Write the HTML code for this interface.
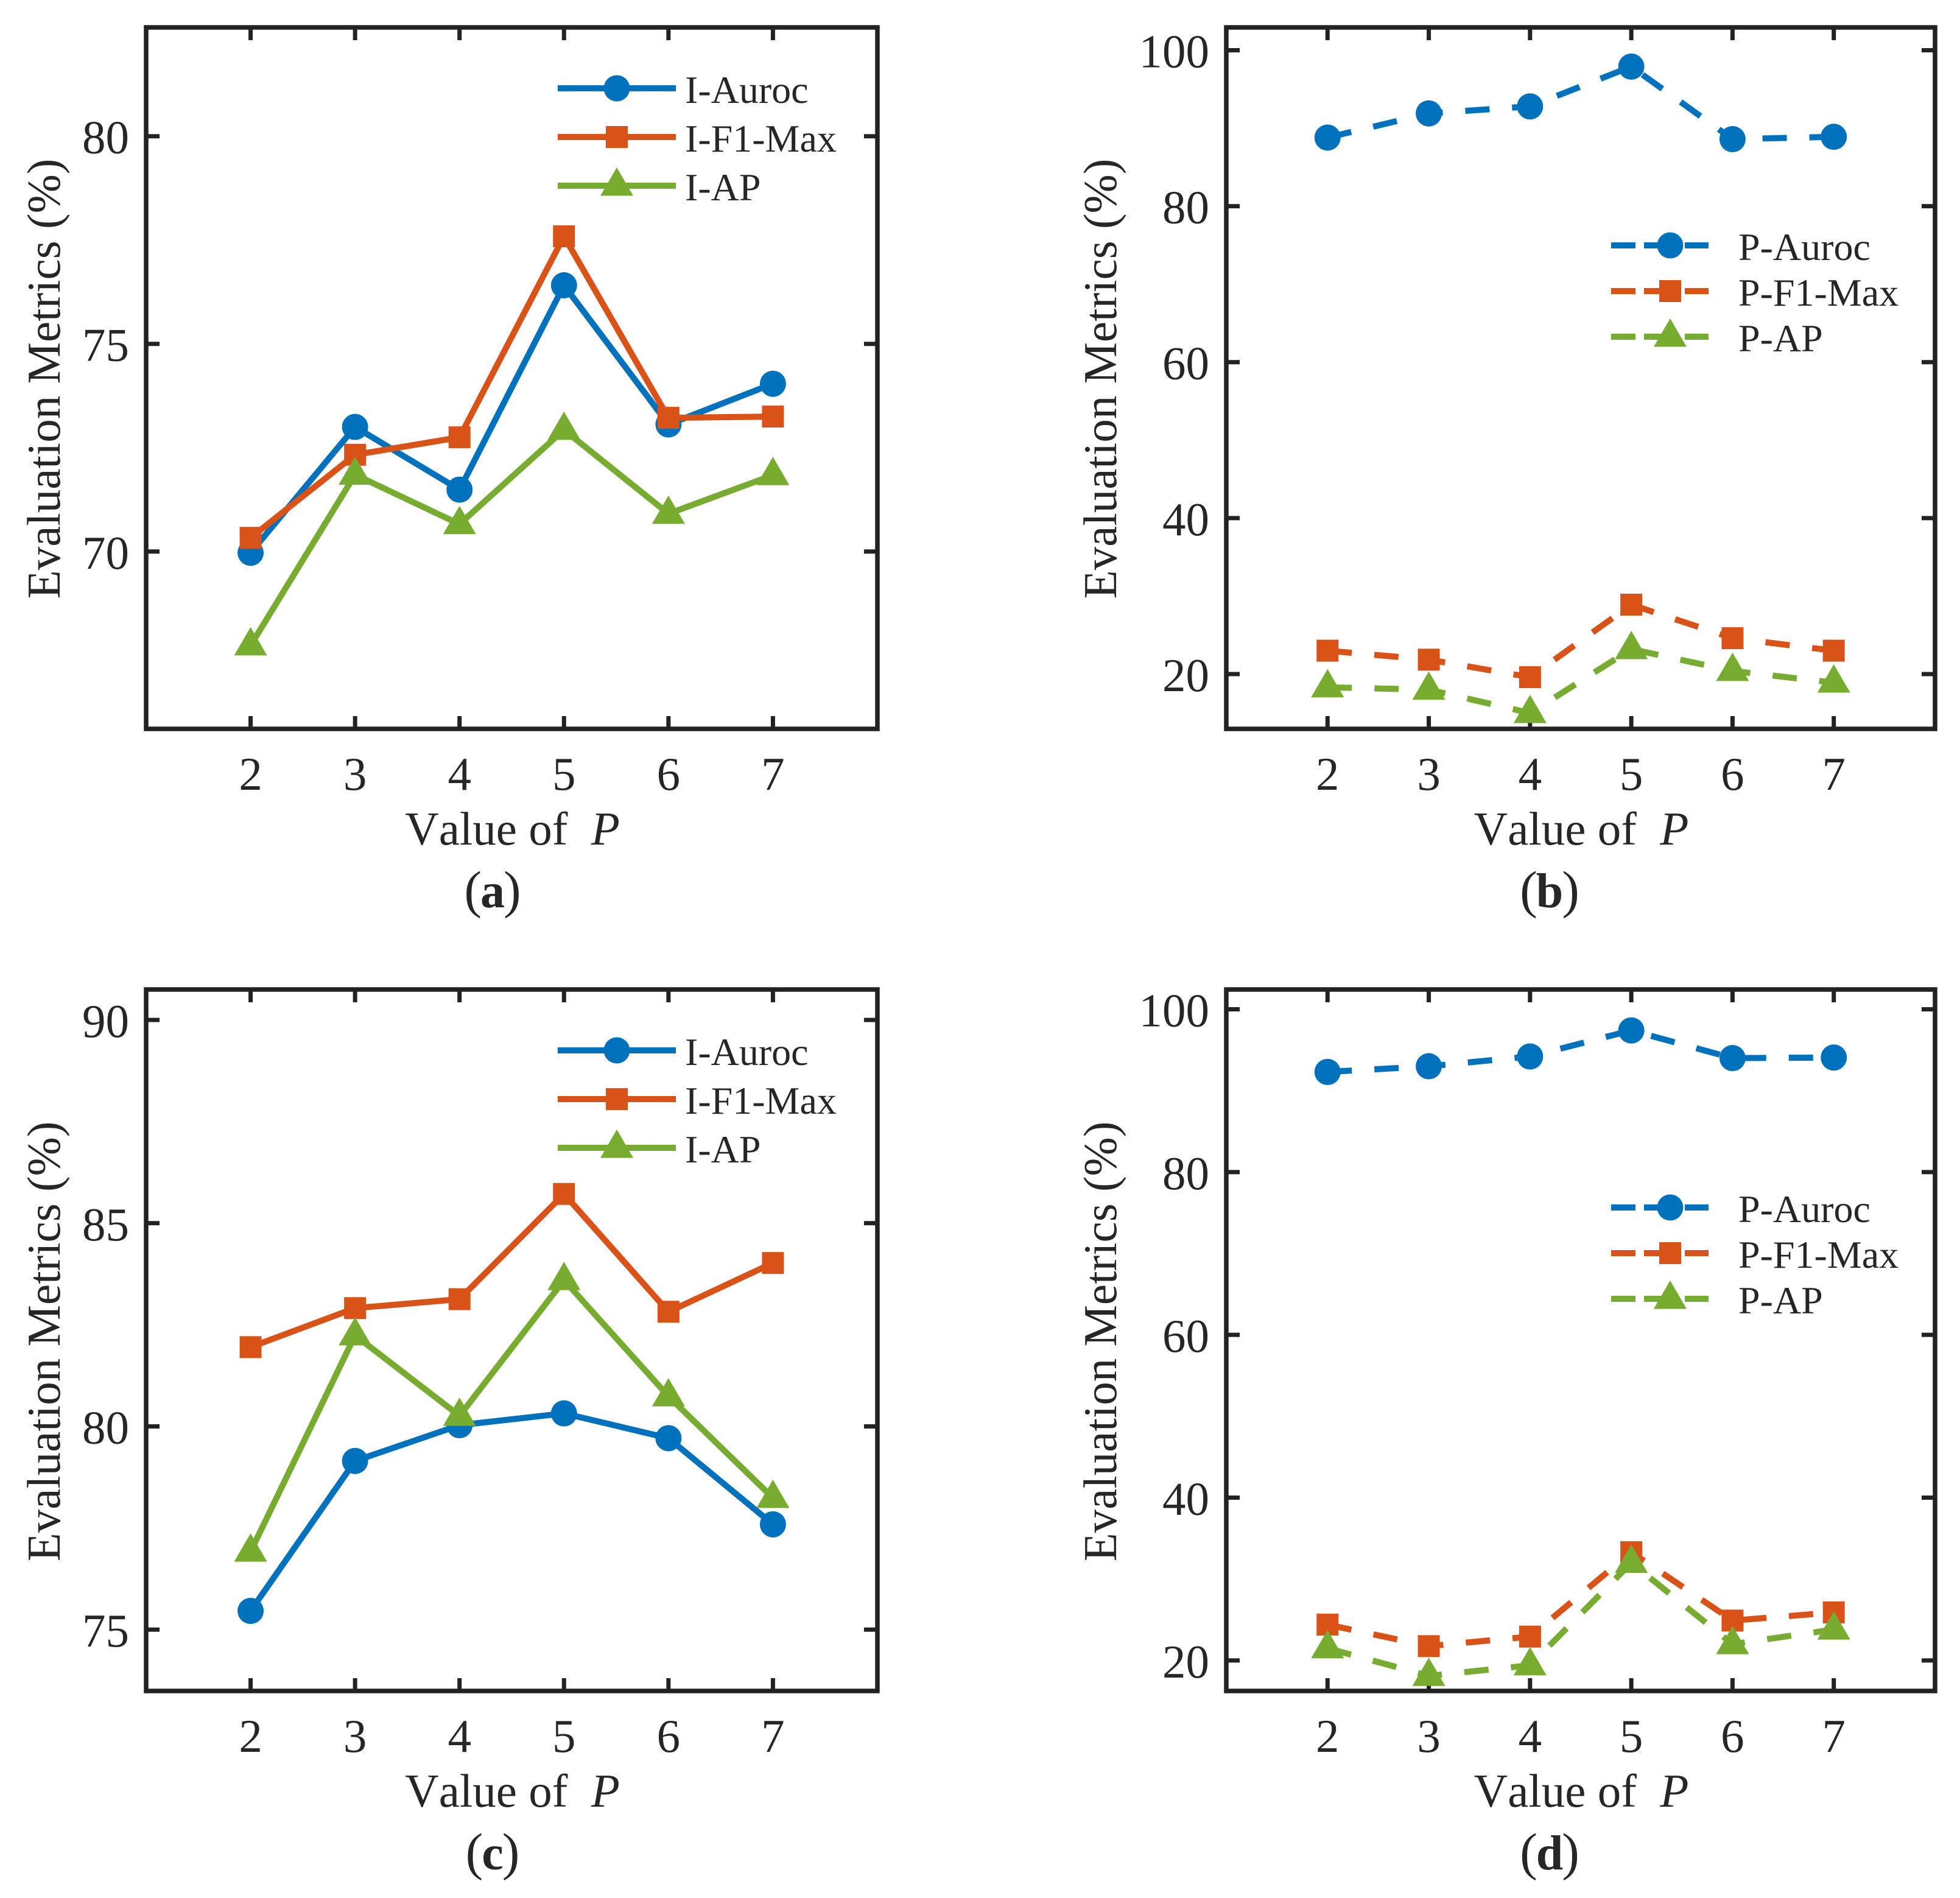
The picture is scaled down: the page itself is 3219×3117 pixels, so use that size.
<!DOCTYPE html>
<html lang="en">
<head>
<meta charset="utf-8">
<title>Evaluation Metrics vs Value of P</title>
<style>
html,body{margin:0;padding:0;background:#fff;width:3219px;height:3117px;overflow:hidden}
svg{display:block}
text{font-family:"Liberation Serif",serif;fill:#262626;white-space:pre;font-kerning:none}
</style>
</head>
<body>
<svg id="figure" xmlns="http://www.w3.org/2000/svg" width="3219" height="3117" viewBox="0 0 3219 3117"></svg>
<script>
// ---- Data ----
const xCategories = [2, 3, 4, 5, 6, 7];

const aTicks = [70, 75, 80];
const aAuroc = [69.97, 73.0, 71.49, 76.41, 73.06, 74.04];
const aF1Max = [70.33, 72.33, 72.75, 77.59, 73.22, 73.25];
const aAP = [67.74, 71.85, 70.66, 72.93, 70.91, 71.84];

const bTicks = [20, 40, 60, 80, 100];
const bAuroc = [88.8, 91.9, 92.8, 97.9, 88.6, 88.9];
const bF1Max = [23.0, 21.85, 19.6, 28.9, 24.6, 23.0];
const bAP = [18.3, 18.0, 15.0, 23.2, 20.4, 18.9];

const cTicks = [75, 80, 85, 90];
const cAuroc = [75.46, 79.15, 80.03, 80.32, 79.71, 77.59];
const cF1Max = [81.95, 82.91, 83.13, 85.72, 82.82, 84.02];
const cAP = [76.92, 82.24, 80.26, 83.6, 80.74, 78.24];

const dTicks = [20, 40, 60, 80, 100];
const dAuroc = [92.3, 93.0, 94.2, 97.4, 94.0, 94.07];
const dF1Max = [24.4, 21.76, 22.93, 33.3, 24.9, 25.9];
const dAP = [21.5, 18.1, 19.4, 32.0, 22.0, 23.8];

// ---- Layout and styling ----
const BLUE = '#0072BD', ORANGE = '#D95319', GREEN = '#77AC30', INK = '#222222';
const panels = [
  {id:'a', left:240, right:1441, top:45, bottom:1197, yMin:65.73, yMax:82.62, ticks:aTicks, prefix:'I',
   series:[aAuroc,aF1Max,aAP], dash:null, yLabelX:98, yLabelY:622, capX:809,
   legend:{x1:916,x2:1110,mx:1013,tx:1125,ys:[145,225,305],dy:24}},
  {id:'b', left:2014, right:3178, top:45, bottom:1197, yMin:12.97, yMax:102.93, ticks:bTicks, prefix:'P',
   series:[bAuroc,bF1Max,bAP], dash:'40 37', yLabelX:1833, yLabelY:622, capX:2545,
   legend:{x1:2646,x2:2806,mx:2743,tx:2855,ys:[403,478,553],dy:24}},
  {id:'c', left:240, right:1441, top:1625, bottom:2777, yMin:73.49, yMax:90.75, ticks:cTicks, prefix:'I',
   series:[cAuroc,cF1Max,cAP], dash:null, yLabelX:98, yLabelY:2203, capX:809,
   legend:{x1:916,x2:1110,mx:1013,tx:1125,ys:[1725,1805,1885],dy:24}},
  {id:'d', left:2014, right:3178, top:1625, bottom:2777, yMin:16.25, yMax:102.43, ticks:dTicks, prefix:'P',
   series:[dAuroc,dF1Max,dAP], dash:'40 37', yLabelX:1833, yLabelY:2203, capX:2545,
   legend:{x1:2646,x2:2806,mx:2743,tx:2855,ys:[1983,2058,2133],dy:24}}
];
const seriesMeta = [
  {suffix:'Auroc', key:'auroc', color:BLUE, marker:'circle'},
  {suffix:'F1-Max', key:'f1-max', color:ORANGE, marker:'square'},
  {suffix:'AP', key:'ap', color:GREEN, marker:'triangle'}
];
const X_MIN = 1, X_MAX = 8;
const NS = 'http://www.w3.org/2000/svg';
const figure = document.getElementById('figure');

function make(parent, tag, attrs, name) {
  const el = document.createElementNS(NS, tag);
  for (const k in attrs) el.setAttribute(k, attrs[k]);
  
  
  parent.appendChild(el);
  return el;
}
function axisX(p, v) { return p.left + (v - X_MIN) / (X_MAX - X_MIN) * (p.right - p.left); }
function axisY(p, v) { return p.bottom - (v - p.yMin) / (p.yMax - p.yMin) * (p.bottom - p.top); }

function drawMarker(g, kind, cx, cy, color, name) {
  if (kind === 'circle') {
    make(g, 'circle', {cx:cx, cy:cy, r:21.5, fill:color}, name);
  } else if (kind === 'square') {
    make(g, 'rect', {x:cx-18, y:cy-18, width:36, height:36, fill:color}, name);
  } else {
    make(g, 'polygon', {points:(cx)+','+(cy-30)+' '+(cx-27)+','+(cy+16.5)+' '+(cx+27)+','+(cy+16.5), fill:color}, name);
  }
}

panels.forEach(function (p) {
  const g = make(figure, 'g', {}, 'panel-' + p.id);

  // frame
  make(g, 'rect', {x:p.left, y:p.top, width:p.right-p.left, height:p.bottom-p.top, fill:'none', stroke:INK, 'stroke-width':7.5}, 'plot-frame-' + p.id);

  // x ticks
  xCategories.forEach(function (c) {
    const x = axisX(p, c);
    make(g, 'line', {x1:x, x2:x, y1:p.bottom, y2:p.bottom-21, stroke:INK, 'stroke-width':7}, 'x-tick-bottom-' + c);
    make(g, 'line', {x1:x, x2:x, y1:p.top, y2:p.top+21, stroke:INK, 'stroke-width':7}, 'x-tick-top-' + c);
    const t = make(g, 'text', {x:x, y:p.bottom+100, 'text-anchor':'middle', 'font-size':77}, 'x-tick-label-' + c);
    t.textContent = String(c);
  });

  // y ticks
  p.ticks.forEach(function (v) {
    const y = axisY(p, v);
    make(g, 'line', {x1:p.left, x2:p.left+22, y1:y, y2:y, stroke:INK, 'stroke-width':7}, 'y-tick-left-' + v);
    make(g, 'line', {x1:p.right, x2:p.right-22, y1:y, y2:y, stroke:INK, 'stroke-width':7}, 'y-tick-right-' + v);
    const t = make(g, 'text', {x:p.left-28, y:y+28, 'text-anchor':'end', 'font-size':77}, 'y-tick-label-' + v);
    t.textContent = String(v);
  });

  // axis titles
  const yt = make(g, 'text', {x:p.yLabelX, y:p.yLabelY, 'text-anchor':'middle', 'font-size':77,
    transform:'rotate(-90 ' + p.yLabelX + ' ' + p.yLabelY + ')'}, 'y-axis-title');
  yt.textContent = 'Evaluation Metrics (%)';

  const xt = make(g, 'text', {x:(p.left+p.right)/2+1, y:p.bottom+190, 'text-anchor':'middle', 'font-size':77}, 'x-axis-title');
  xt.appendChild(document.createTextNode('Value of  '));
  const it = make(xt, 'tspan', {'font-style':'italic'}, 'x-axis-variable');
  it.textContent = 'P';

  // caption
  const cap = make(g, 'text', {x:p.capX, y:p.bottom+293, 'text-anchor':'middle', 'font-size':86, fill:'#000'}, 'panel-caption-' + p.id);
  cap.appendChild(document.createTextNode('('));
  const capB = make(cap, 'tspan', {'font-weight':'bold', 'font-size':80, dx:-2}, 'panel-letter-' + p.id);
  capB.textContent = p.id;
  const capEnd = make(cap, 'tspan', {dx:-2}, 'panel-caption-close-' + p.id);
  capEnd.textContent = ')';

  // series
  seriesMeta.forEach(function (m, i) {
    const values = p.series[i];
    const sg = make(g, 'g', {}, 'series-' + m.key);
    const pts = values.map(function (v, j) { return axisX(p, xCategories[j]) + ',' + axisY(p, v); }).join(' ');
    const lineAttrs = {points:pts, fill:'none', stroke:m.color, 'stroke-width':10, 'stroke-linejoin':'miter'};
    if (p.dash) lineAttrs['stroke-dasharray'] = p.dash;
    make(sg, 'polyline', lineAttrs, 'series-line-' + m.key);
    values.forEach(function (v, j) {
      drawMarker(sg, m.marker, axisX(p, xCategories[j]), axisY(p, v), m.color, 'point-' + m.key + '-' + xCategories[j]);
    });
  });

  // legend
  const lg = make(g, 'g', {}, 'legend');
  seriesMeta.forEach(function (m, i) {
    const L = p.legend, y = L.ys[i];
    const eg = make(lg, 'g', {}, 'legend-entry-' + m.key);
    const a = {x1:L.x1, x2:L.x2, y1:y, y2:y, stroke:m.color, 'stroke-width':10};
    if (p.dash) a['stroke-dasharray'] = '40 14 53 14 40';
    make(eg, 'line', a, 'legend-line-' + m.key);
    drawMarker(eg, m.marker, L.mx, y, m.color, 'legend-marker-' + m.key);
    const t = make(eg, 'text', {x:L.tx, y:y+L.dy, 'font-size':64, fill:'#111'}, 'legend-label-' + m.key);
    t.textContent = p.prefix + '-' + m.suffix;
  });
});
</script>
</body>
</html>
